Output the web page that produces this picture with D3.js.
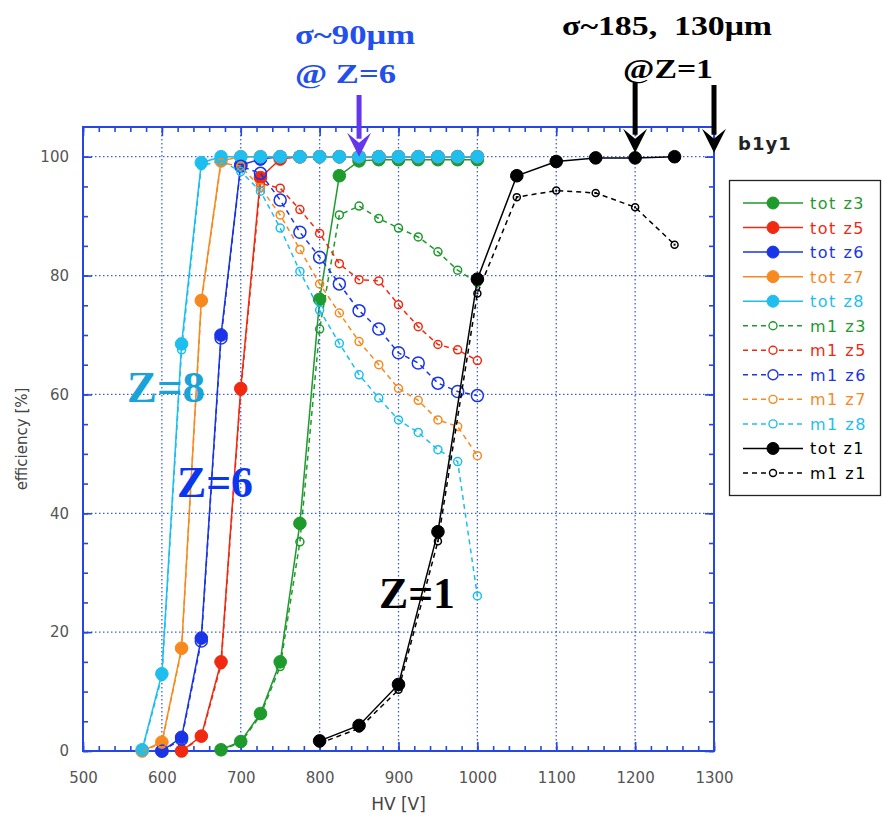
<!DOCTYPE html>
<html>
<head>
<meta charset="utf-8">
<script src="https://cdn.jsdelivr.net/npm/d3@7"></script>
<style>
  body { margin: 0; background: #fff; }
  svg { display: block; }
</style>
</head>
<body>
<svg class="chart" width="882" height="821"></svg>
<script>

// ---- data (HV in V, efficiency in %) ----

const hvZ8 = [575, 600, 625, 650, 675, 700, 725, 750, 775, 800, 825, 850, 875, 900, 925, 950, 975, 1000];
const totZ8 = [0.2, 13, 68.5, 99, 100, 100, 100, 100, 100, 100, 100, 100, 100, 100, 100, 100, 100, 100];
const m1Z8 = [0, 12.5, 67.5, 98.5, 99.3, 97.5, 94.2, 88, 80.7, 74.2, 68.6, 63.3, 59.4, 55.7, 53.6, 50.7, 48.7, 26.1];

const hvZ7 = [575, 600, 625, 650, 675, 700, 725, 750, 775, 800, 825, 850, 875, 900, 925, 950, 975, 1000];
const totZ7 = [0, 1.5, 17.3, 75.8, 99.3, 100, 100, 100, 100, 100, 100, 100, 100, 100, 100, 100, 100, 100];
const m1Z7 = [0, 1.3, 17, 75.5, 99, 98.4, 94.8, 90.2, 84.4, 78.6, 73.7, 68.9, 65, 61, 59, 55.7, 54.6, 49.7];

const hvZ6 = [600, 625, 650, 675, 700, 725, 750, 775, 800, 825, 850, 875, 900, 925, 950, 975, 1000];
const totZ6 = [0, 2.3, 19, 70, 98.6, 99.6, 100, 100, 100, 100, 100, 100, 100, 100, 100, 100, 100];
const m1Z6 = [0, 2, 18.5, 69.5, 98.4, 97.2, 92.7, 87.3, 83.1, 78.6, 74.1, 71, 67, 65.3, 61.9, 60.5, 59.8];

const hvZ5 = [625, 650, 675, 700, 725, 750, 775, 800, 825, 850, 875, 900, 925, 950, 975, 1000];
const totZ5 = [0, 2.5, 15, 61, 96.5, 99.6, 100, 100, 100, 100, 100, 100, 100, 100, 100, 100];
const m1Z5 = [0, 2.3, 14.5, 60.5, 95.5, 94.7, 91.1, 87.1, 82, 79.3, 79.1, 75.1, 71.4, 68.4, 67.5, 65.7];

const hvZ3 = [675, 700, 725, 750, 775, 800, 825, 850, 875, 900, 925, 950, 975, 1000];
const totZ3 = [0.2, 1.6, 6.3, 15, 38.3, 76, 96.8, 99.3, 99.5, 99.5, 99.5, 99.5, 99.5, 99.5];
const m1Z3 = [0.2, 1.4, 6, 14.2, 35.2, 71, 90.2, 91.7, 89.6, 88, 86.5, 84, 80.9, 78.8];

const hvZ1 = [800, 850, 900, 950, 1000, 1050, 1100, 1150, 1200, 1250];
const totZ1 = [1.7, 4.3, 11.2, 36.9, 79.4, 96.8, 99.2, 99.8, 99.8, 100];
const m1Z1 = [1.3, 3.8, 10.3, 35.3, 77, 93.2, 94.3, 93.9, 91.5, 85.2];

const xTicks = [500, 600, 700, 800, 900, 1000, 1100, 1200, 1300];
const yTicks = [0, 20, 40, 60, 80, 100];

// arrows above the frame: HV value they point at
const arrowsHV = [850, 1200, 1300];

// ---- setup ----

const colors = {
    z3: '#1f9a2c',
    z5: '#f02a10',
    z6: '#1a35e6',
    z7: '#f7891f',
    z8: '#1ebeee',
    z1: '#000000'
};

const series = [
    { name: 'tot z3', hv: hvZ3, val: totZ3, color: colors.z3, dash: false, r: 6.3 },
    { name: 'tot z5', hv: hvZ5, val: totZ5, color: colors.z5, dash: false, r: 6.3 },
    { name: 'tot z6', hv: hvZ6, val: totZ6, color: colors.z6, dash: false, r: 6.3 },
    { name: 'tot z7', hv: hvZ7, val: totZ7, color: colors.z7, dash: false, r: 6.3 },
    { name: 'tot z8', hv: hvZ8, val: totZ8, color: colors.z8, dash: false, r: 6.3 },
    { name: 'm1 z3', hv: hvZ3, val: m1Z3, color: colors.z3, dash: true, r: 4 },
    { name: 'm1 z5', hv: hvZ5, val: m1Z5, color: colors.z5, dash: true, r: 4 },
    { name: 'm1 z6', hv: hvZ6, val: m1Z6, color: colors.z6, dash: true, r: 6 },
    { name: 'm1 z7', hv: hvZ7, val: m1Z7, color: colors.z7, dash: true, r: 4 },
    { name: 'm1 z8', hv: hvZ8, val: m1Z8, color: colors.z8, dash: true, r: 4 },
    { name: 'tot z1', hv: hvZ1, val: totZ1, color: colors.z1, dash: false, r: 6.3 },
    { name: 'm1 z1', hv: hvZ1, val: m1Z1, color: colors.z1, dash: true, r: 3.5 }
];

const frame = { left: 83, right: 714, top: 127, bottom: 751 };
const axisBlue = '#2646e8';

const svg = d3.select('svg.chart');

const x = d3.scaleLinear().domain([500, 1300]).range([frame.left, frame.right]);
const y = d3.scaleLinear().domain([0, 105]).range([frame.bottom, frame.top]);

// ---- grid ----

const grid = svg.append('g')
    .attr('stroke', '#3a5cf0')
    .attr('stroke-width', 1.3)
    .attr('stroke-dasharray', '1.5,2.5');

grid.selectAll('line.gx')
    .data(xTicks.slice(1, -1))
    .join('line')
    .attr('x1', d => x(d)).attr('x2', d => x(d))
    .attr('y1', frame.top).attr('y2', frame.bottom);

grid.selectAll('line.gy')
    .data(yTicks.slice(1))
    .join('line')
    .attr('x1', frame.left).attr('x2', frame.right)
    .attr('y1', d => y(d)).attr('y2', d => y(d));

// ---- axes (ticks inward on all four sides) ----

const minorX = d3.range(500, 1301, 20);
const minorY = d3.range(0, 105, 5);

function tickSide(axisFn, scale, ticks, len, transform) {
    svg.append('g')
        .attr('transform', transform)
        .call(axisFn(scale).tickValues(ticks).tickSize(len).tickFormat(''))
        .call(g => g.select('.domain').remove())
        .call(g => g.selectAll('line').attr('stroke', axisBlue).attr('stroke-width', 1.6));
}

tickSide(d3.axisTop, x, minorX, 5, `translate(0,${frame.bottom})`);
tickSide(d3.axisTop, x, xTicks, 9, `translate(0,${frame.bottom})`);
tickSide(d3.axisBottom, x, minorX, 5, `translate(0,${frame.top})`);
tickSide(d3.axisBottom, x, xTicks, 9, `translate(0,${frame.top})`);
tickSide(d3.axisRight, y, minorY, 5, `translate(${frame.left},0)`);
tickSide(d3.axisRight, y, yTicks, 9, `translate(${frame.left},0)`);
tickSide(d3.axisLeft, y, minorY, 5, `translate(${frame.right},0)`);
tickSide(d3.axisLeft, y, yTicks, 9, `translate(${frame.right},0)`);

svg.append('rect')
    .attr('x', frame.left).attr('y', frame.top)
    .attr('width', frame.right - frame.left).attr('height', frame.bottom - frame.top)
    .attr('fill', 'none')
    .attr('stroke', axisBlue)
    .attr('stroke-width', 2);

// tick labels
svg.append('g')
    .attr('transform', `translate(0,${frame.bottom + 6})`)
    .call(d3.axisBottom(x).tickValues(xTicks).tickSize(0).tickPadding(15).tickFormat(d3.format('d')))
    .call(g => g.select('.domain').remove())
    .call(g => g.selectAll('text')
        .attr('fill', '#555')
        .style('font', '15px "DejaVu Sans", sans-serif'));

svg.append('g')
    .attr('transform', `translate(${frame.left - 14},0)`)
    .call(d3.axisLeft(y).tickValues(yTicks).tickSize(0).tickPadding(0))
    .call(g => g.select('.domain').remove())
    .call(g => g.selectAll('text')
        .attr('fill', '#555')
        .style('font', '15px "DejaVu Sans", sans-serif'));

svg.append('text')
    .attr('x', (frame.left + frame.right) / 2)
    .attr('y', 810)
    .attr('text-anchor', 'middle')
    .attr('fill', '#444')
    .style('font', '17px "DejaVu Sans", sans-serif')
    .text('HV [V]');

svg.append('text')
    .attr('transform', `translate(27,${(frame.top + frame.bottom) / 2}) rotate(-90)`)
    .attr('text-anchor', 'middle')
    .attr('fill', '#444')
    .style('font', '15px "DejaVu Sans", sans-serif')
    .text('efficiency [%]');

// ---- series ----

const line = d3.line()
    .x(d => x(d[0]))
    .y(d => y(d[1]));

const plot = svg.append('g');

series.forEach(s => {

    const pts = s.hv.map((h, i) => [h, s.val[i]]);
    const g = plot.append('g');

    g.append('path')
        .datum(pts)
        .attr('d', line)
        .attr('fill', 'none')
        .attr('stroke', s.color)
        .attr('stroke-width', 1.5)
        .attr('stroke-dasharray', s.dash ? '5,4' : null);

    g.selectAll('circle')
        .data(pts)
        .join('circle')
        .attr('cx', d => x(d[0]))
        .attr('cy', d => y(d[1]))
        .attr('r', s.r)
        .attr('fill', s.dash ? 'none' : s.color)
        .attr('stroke', s.color)
        .attr('stroke-width', s.dash ? 1.5 : 1);

    if (s.name == 'm1 z1') {
        g.selectAll('rect')
            .data(pts)
            .join('rect')
            .attr('x', d => x(d[0]) - 1)
            .attr('y', d => y(d[1]) - 1)
            .attr('width', 2).attr('height', 2)
            .attr('fill', s.color);
    }

});

// ---- legend ----

const legend = svg.append('g');

legend.append('rect')
    .attr('x', 729.5).attr('y', 180.5)
    .attr('width', 151).attr('height', 315)
    .attr('fill', '#fff')
    .attr('stroke', '#222')
    .attr('stroke-width', 1.3);

const rowY = d3.scalePoint()
    .domain(series.map(s => s.name))
    .range([203, 473]);

series.forEach(s => {

    const yy = rowY(s.name);

    legend.append('line')
        .attr('x1', 743).attr('x2', 803)
        .attr('y1', yy).attr('y2', yy)
        .attr('stroke', s.color)
        .attr('stroke-width', 1.5)
        .attr('stroke-dasharray', s.dash ? '5,4' : null);

    legend.append('circle')
        .attr('cx', 773).attr('cy', yy)
        .attr('r', s.dash ? Math.min(s.r, 5) : 6)
        .attr('fill', s.dash ? '#fff' : s.color)
        .attr('stroke', s.color)
        .attr('stroke-width', s.dash ? 1.4 : 1);

    legend.append('text')
        .attr('x', 810).attr('y', yy + 6)
        .attr('fill', s.color)
        .style('font', '16px "DejaVu Sans", sans-serif')
        .style('letter-spacing', '1.5px')
        .text(s.name);

});

svg.append('text')
    .attr('x', 738).attr('y', 150)
    .attr('fill', '#222')
    .style('font', 'bold 18px "DejaVu Sans", sans-serif')
    .style('letter-spacing', '1px')
    .text('b1y1');

// ---- annotations ----

const serif = '"Liberation Serif", "Times New Roman", serif';

function note(txt, x0, yb, size, width, color) {
    svg.append('text')
        .attr('x', x0).attr('y', yb)
        .attr('fill', color)
        .attr('textLength', width)
        .attr('lengthAdjust', 'spacingAndGlyphs')
        .style('font', `bold ${size}px ${serif}`)
        .text(txt);
}

note('σ~90μm', 295, 44, 28, 120, '#2350ec');
note('@ Z=6', 295, 83, 28, 101, '#2350ec');
note('σ~185,\u00a0 130μm', 562, 35, 28, 210, '#000');
note('@Z=1', 623, 78, 28, 90, '#000');

note('Z=8', 127, 402, 45, 78, '#1aa3d6');
note('Z=6', 177, 497, 45, 76, '#0a36ee');
note('Z=1', 379, 608, 45, 76, '#000');

const arrowStyle = [
    { top: 95, color: '#6436ee' },
    { top: 83, color: '#000' },
    { top: 85, color: '#000' }
];

arrowsHV.forEach((hv, i) => {

    const ax = x(hv);
    const tip = y(100) - (i == 0 ? 0 : 4);
    const st = arrowStyle[i];

    svg.append('line')
        .attr('x1', ax).attr('x2', ax)
        .attr('y1', st.top).attr('y2', tip - 18)
        .attr('stroke', st.color)
        .attr('stroke-width', 5);

    svg.append('path')
        .attr('d', `M${ax - 12},${tip - 24} L${ax},${tip - 14} L${ax + 12},${tip - 24} L${ax},${tip} Z`)
        .attr('fill', st.color);

});

</script>
</body>
</html>
